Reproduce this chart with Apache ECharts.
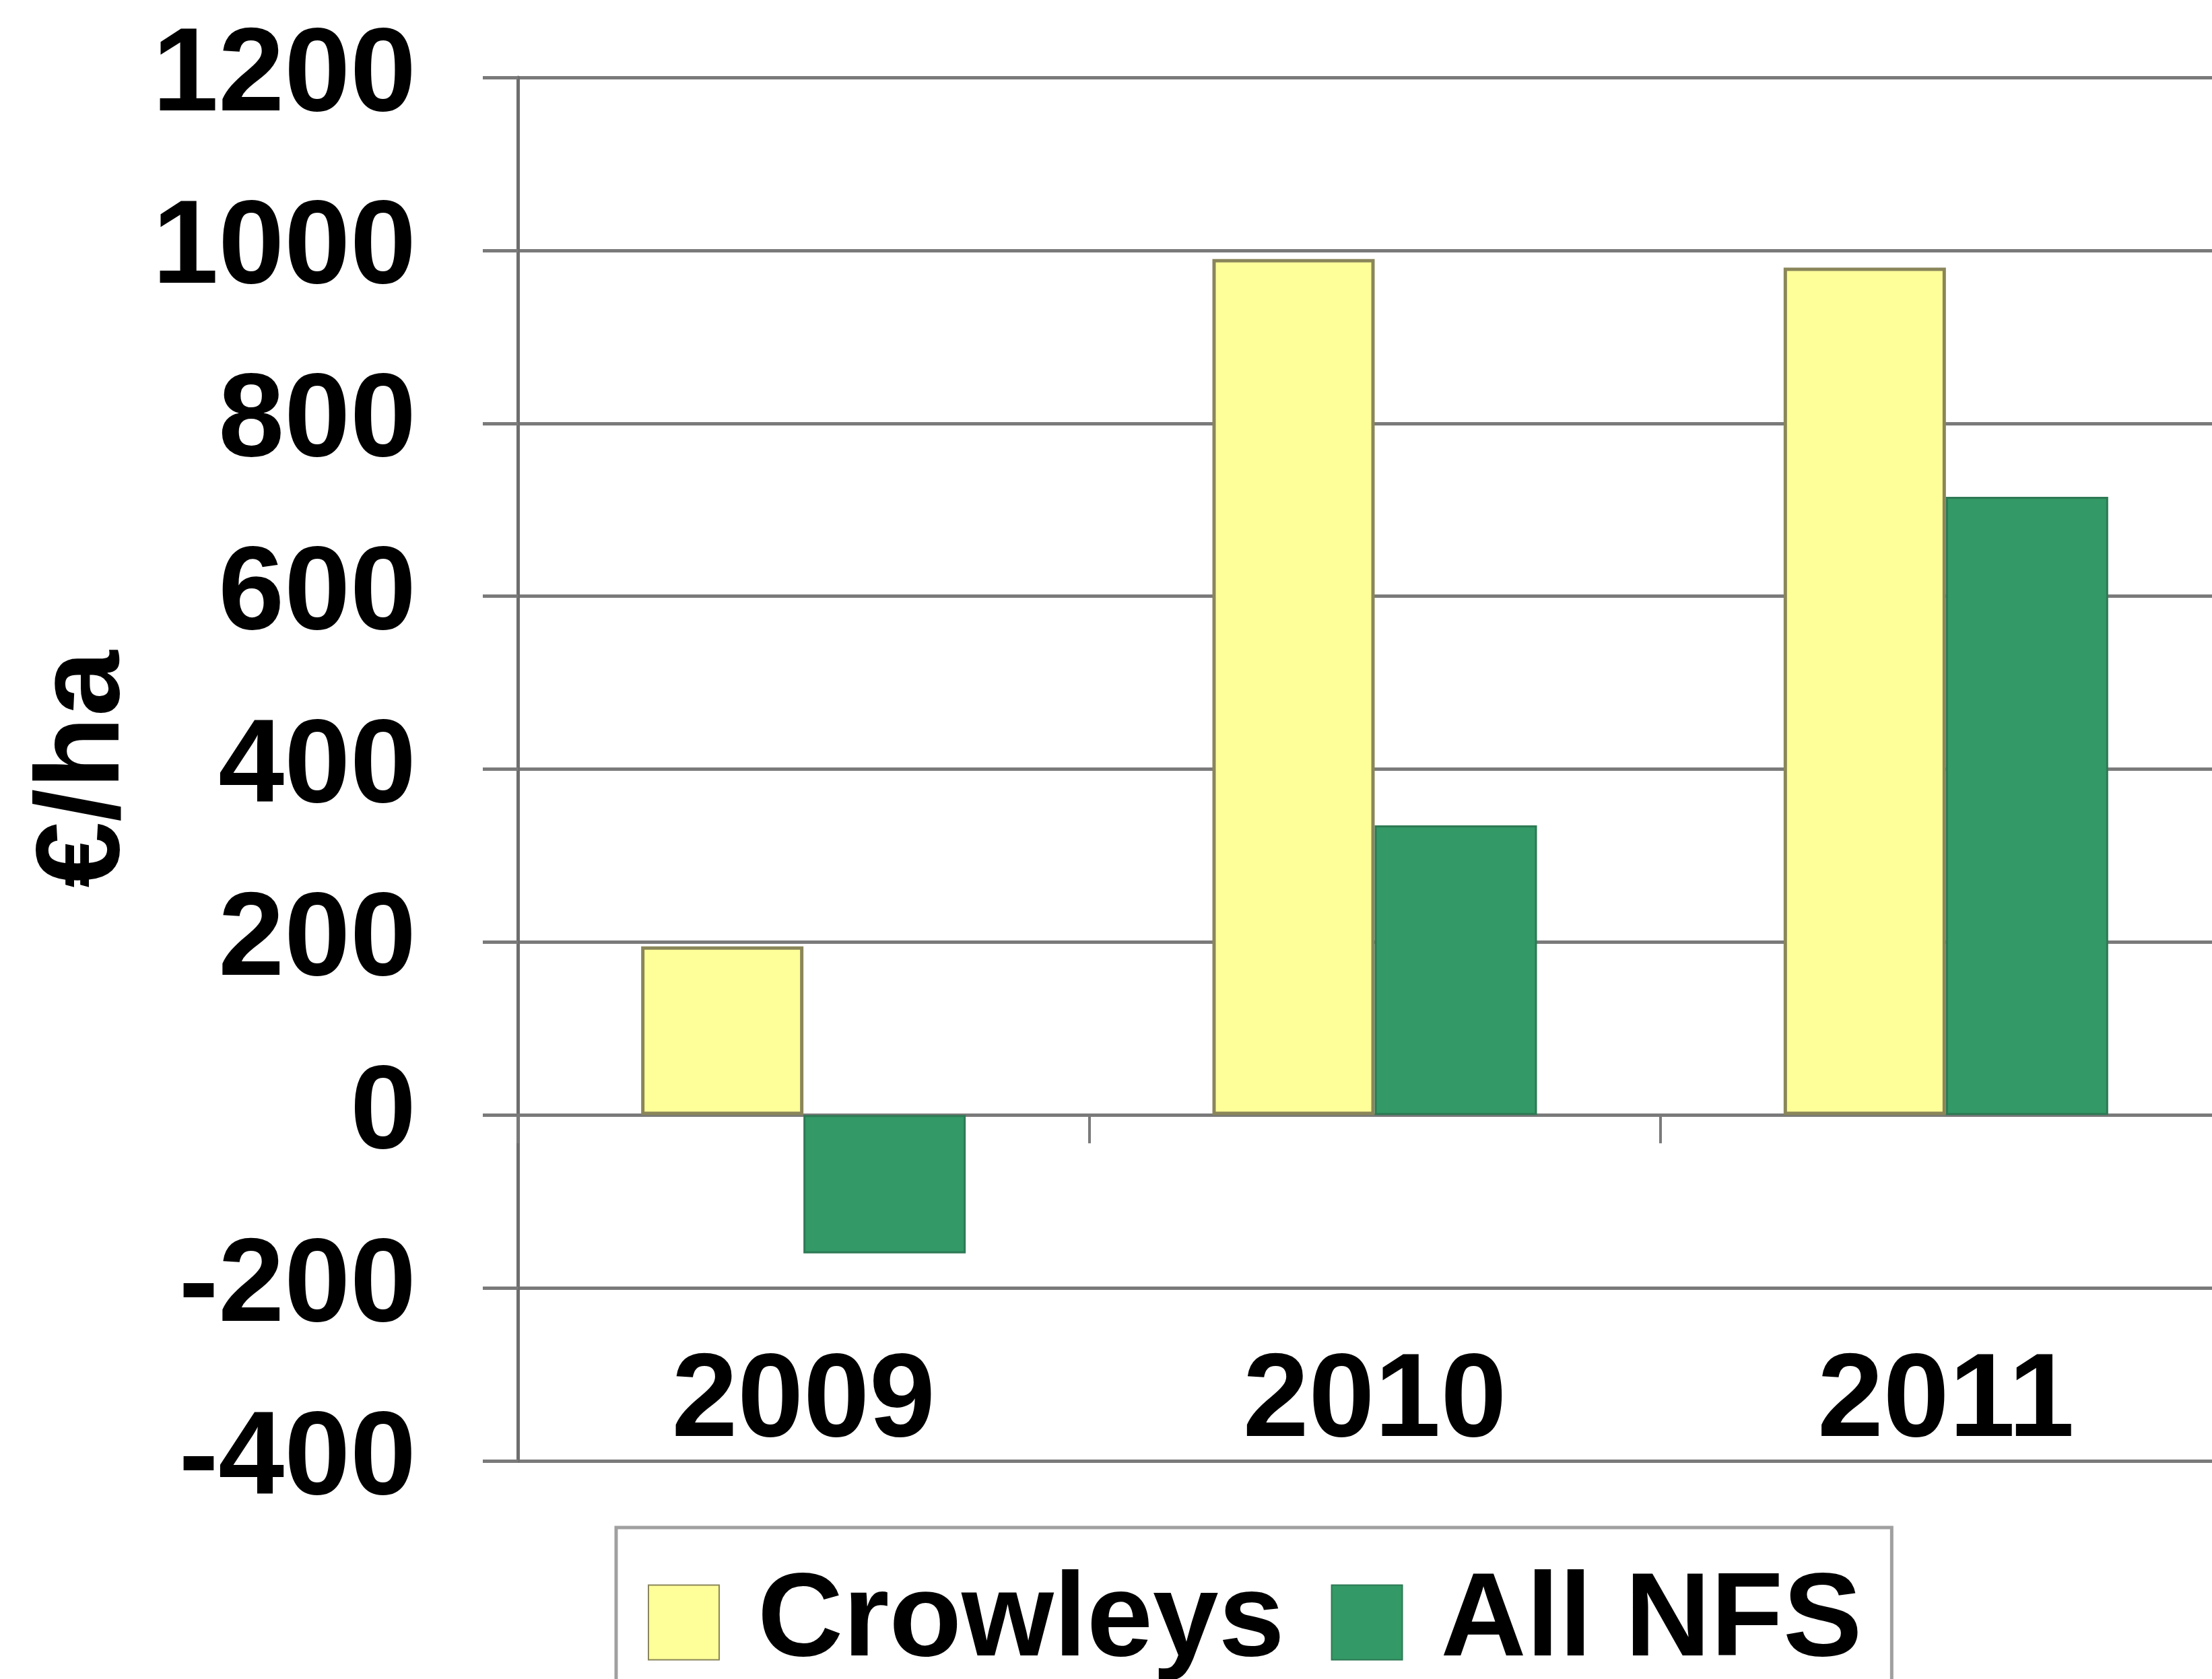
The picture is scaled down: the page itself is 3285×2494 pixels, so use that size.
<!DOCTYPE html>
<html>
<head>
<meta charset="utf-8">
<script src="https://cdn.jsdelivr.net/npm/echarts@6/dist/echarts.min.js"></script>
<style>
html,body{margin:0;padding:0;background:#fff;}
#c{width:3285px;height:2494px;}
</style>
</head>
<body>
<div id="c"></div>
<script>
const categories = ['2009', '2010', '2011'];
const seriesNames = ['Crowleys', 'All NFS'];
const crowleys = [195, 990, 980];
const allNFS = [-160, 335, 715];
const yTicks = [-400, -200, 0, 200, 400, 600, 800, 1000, 1200];

const FONT = "'Liberation Sans', Arial, sans-serif";
const chart = echarts.init(document.getElementById('c'), null, {renderer: 'canvas'});
chart.setOption({
  backgroundColor: '#ffffff',
  animation: false,
  grid: {left: 769, top: 115, width: 2545, height: 2055, containLabel: false, outerBoundsMode: 'none'},
  legend: {
    data: seriesNames,
    left: 915, top: 2269,
    orient: 'horizontal',
    itemWidth: 105, itemHeight: 111, itemGap: 69,
    padding: [53, 44, 80, 47],
    borderColor: '#a0a0a0', borderWidth: 5,
    textStyle: {fontFamily: FONT, fontWeight: 'bold', fontSize: 176, color: '#000', padding: [0, 0, 0, 52]},
    icon: 'rect'
  },
  xAxis: {
    type: 'category',
    data: categories,
    axisLine: {onZero: true, lineStyle: {color: '#7a7a7a', width: 5}},
    axisTick: {show: true, length: 42, lineStyle: {color: '#7a7a7a', width: 4}},
    axisLabel: {margin: -86, verticalAlign: 'middle', fontFamily: FONT, fontWeight: 'bold', fontSize: 176, color: '#000'},
    splitLine: {show: false}
  },
  yAxis: {
    type: 'value',
    min: yTicks[0], max: yTicks[yTicks.length - 1], interval: 200,
    name: '€/ha',
    nameLocation: 'middle', nameRotate: 90, nameGap: 486,
    nameTextStyle: {fontFamily: FONT, fontWeight: 'bold', fontSize: 176, color: '#000'},
    axisLine: {show: true, lineStyle: {color: '#6e6e6e', width: 5}},
    axisTick: {show: true, length: 52, inside: false, lineStyle: {color: '#7a7a7a', width: 5}},
    axisLabel: {margin: 151, padding: [22, 0, 0, 0], fontFamily: FONT, fontWeight: 'bold', fontSize: 176, color: '#000',
      formatter: function (v) { return String(v); }},
    splitLine: {show: true, lineStyle: {color: '#7a7a7a', width: 5}}
  },
  series: [
    {
      name: seriesNames[0], type: 'bar', data: crowleys,
      barWidth: 241, barGap: '0%',
      itemStyle: {color: '#ffff99', borderColor: '#8a865a', borderWidth: 5}
    },
    {
      name: seriesNames[1], type: 'bar', data: allNFS,
      barWidth: 241, barGap: '0%',
      itemStyle: {color: '#339966', borderColor: '#2d7a55', borderWidth: 3}
    }
  ]
});
</script>
</body>
</html>
